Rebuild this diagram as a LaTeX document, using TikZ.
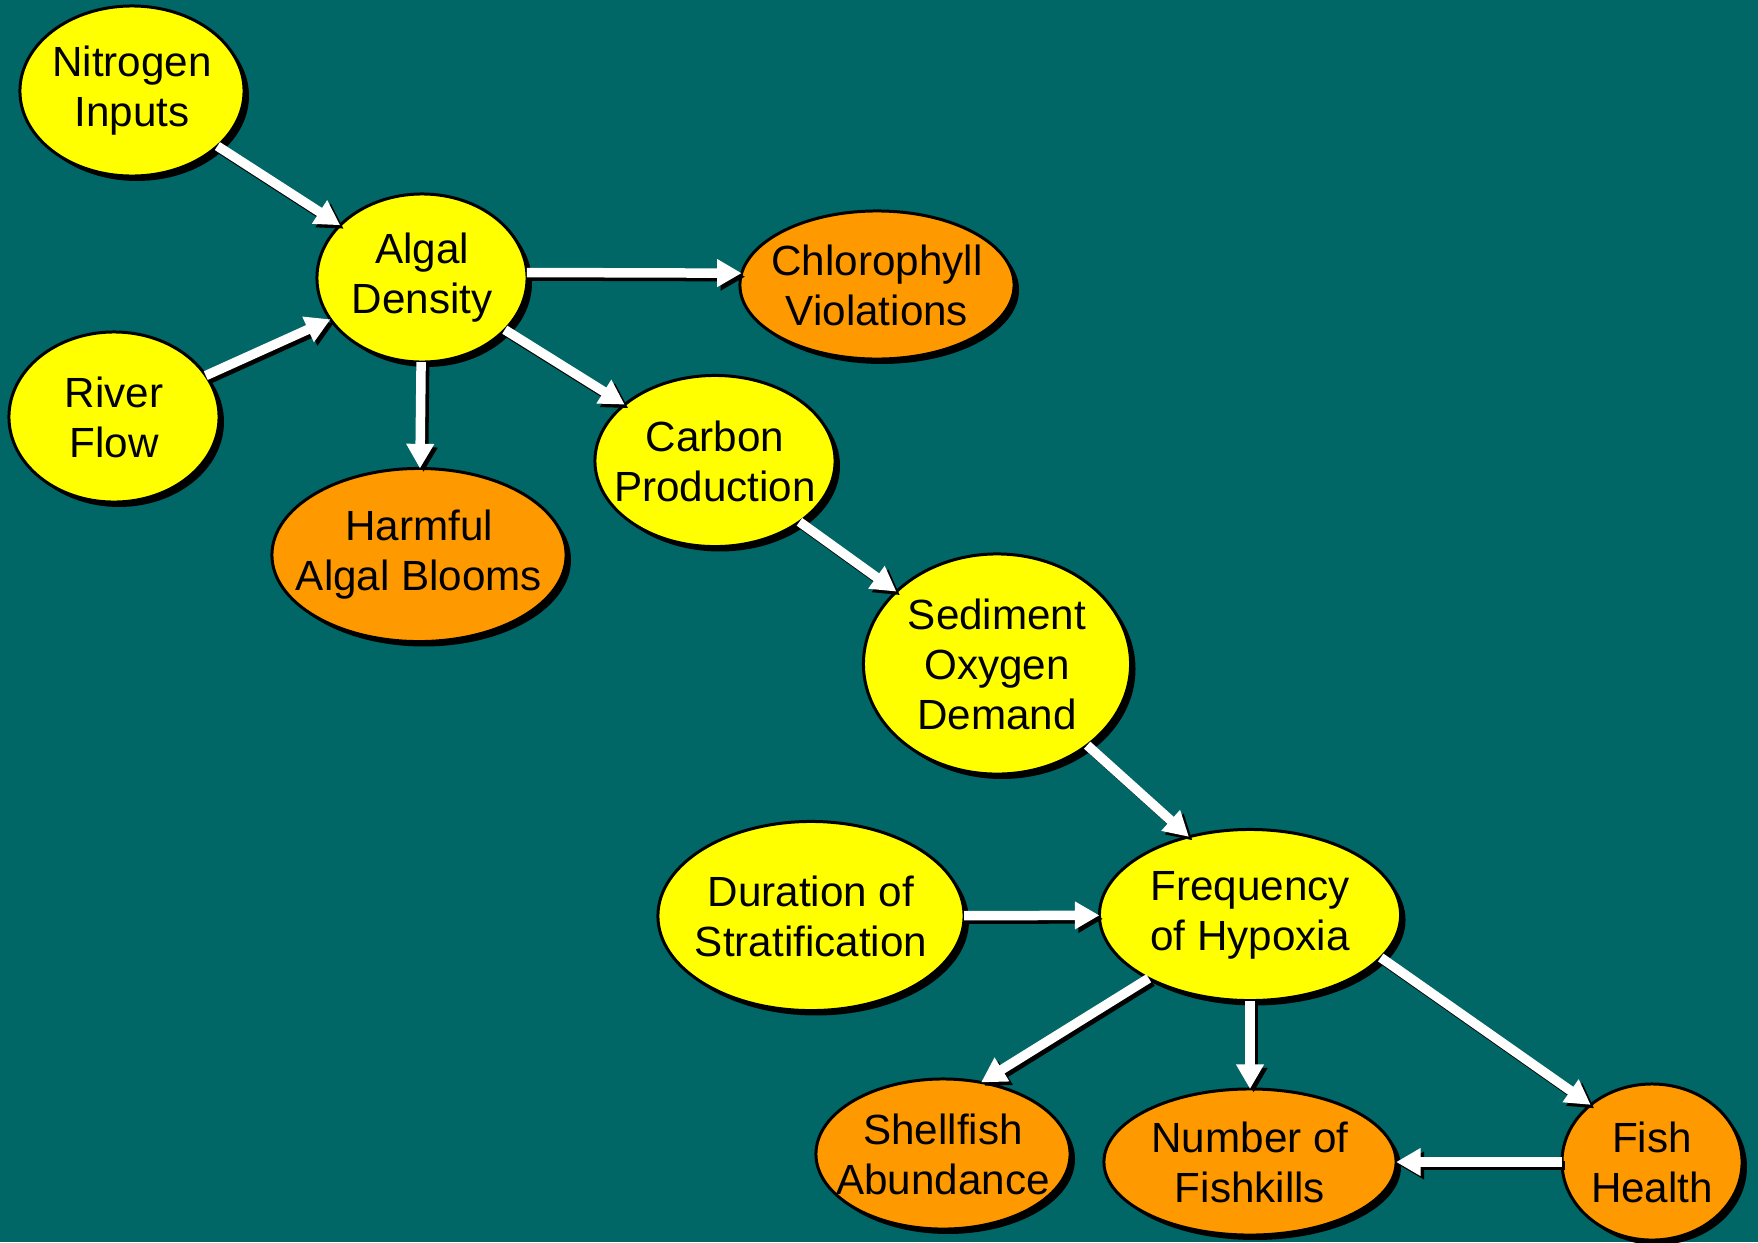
\documentclass[tikz,border=0pt]{standalone}
\usepackage{fontspec}
\setmainfont{Liberation Sans}
\usetikzlibrary{arrows.meta, shapes.geometric, shadows}
\definecolor{bgteal}{RGB}{0,102,102}
\definecolor{driver}{RGB}{255,255,0}
\definecolor{effect}{RGB}{255,153,0}

\tikzset{
  blob/.style={ellipse, draw=black, line width=0.85pt, inner xsep=-14pt, inner ysep=0pt, outer sep=0pt,
    align=center, font=\fontsize{12}{14.2}\selectfont,
    drop shadow={shadow xshift=1.4pt, shadow yshift=-1.4pt, fill=black, opacity=1}},
  cause/.style={blob, fill=driver},
  result/.style={blob, fill=effect},
  link/.style={white, line width=2.7pt, -{Triangle[length=7pt,width=7.5pt]}},
  linkshade/.style={link, black, transform canvas={shift={(1pt,-1pt)}}}
}

\begin{document}
\begin{tikzpicture}[x=0.01cm, y=-0.01cm]
  % background
  \fill[bgteal] (0,0) rectangle (1758,1242);
  \useasboundingbox (0,0) rectangle (1758,1242);

  % upper chain
  \node[cause, minimum width=2.24cm, minimum height=1.70cm] (nitro) at (132,91) {Nitrogen\\Inputs};
  \node[cause, minimum width=2.10cm, minimum height=1.68cm] (algal) at (422,278) {Algal\\Density};
  \node[cause, minimum width=2.10cm, minimum height=1.70cm] (river) at (114,417) {River\\Flow};
  \node[result, minimum width=2.74cm, minimum height=1.48cm] (chloro) at (877,285) {Chlorophyll\\Violations};
  \node[result, minimum width=2.94cm, minimum height=1.73cm] (harmful) at (419,555) {Harmful\\Algal Blooms};
  \node[cause, minimum width=2.40cm, minimum height=1.71cm] (carbon) at (715,461) {Carbon\\Production};
  \node[cause, minimum width=2.67cm, minimum height=2.20cm] (sediment) at (997,664) {Sediment\\Oxygen\\Demand};

  % lower chain
  \node[cause, minimum width=3.06cm, minimum height=1.89cm] (duration) at (811,916) {Duration of\\Stratification};
  \node[cause, minimum width=3.01cm, minimum height=1.71cm] (hypoxia) at (1250,915) {Frequency\\of Hypoxia};
  \node[result, minimum width=2.54cm, minimum height=1.50cm] (shellfish) at (943,1154) {Shellfish\\Abundance};
  \node[result, minimum width=2.92cm, minimum height=1.46cm] (fishkills) at (1250,1162) {Number of\\Fishkills};
  \node[result, minimum width=1.80cm, minimum height=1.56cm] (fish) at (1652,1162) {Fish\\Health};

  % arrows
  \foreach \a/\b in {nitro/algal, river/algal, algal.3/chloro.175, algal/harmful, algal/carbon,
      carbon/sediment, sediment/hypoxia.128, duration/hypoxia, hypoxia.212/shellfish.62,
      hypoxia.-90/fishkills, hypoxia.-18/fish.137, fish/fishkills} {
    \draw[linkshade] (\a) -- (\b);
    \draw[link] (\a) -- (\b);
  }
\end{tikzpicture}
\end{document}
